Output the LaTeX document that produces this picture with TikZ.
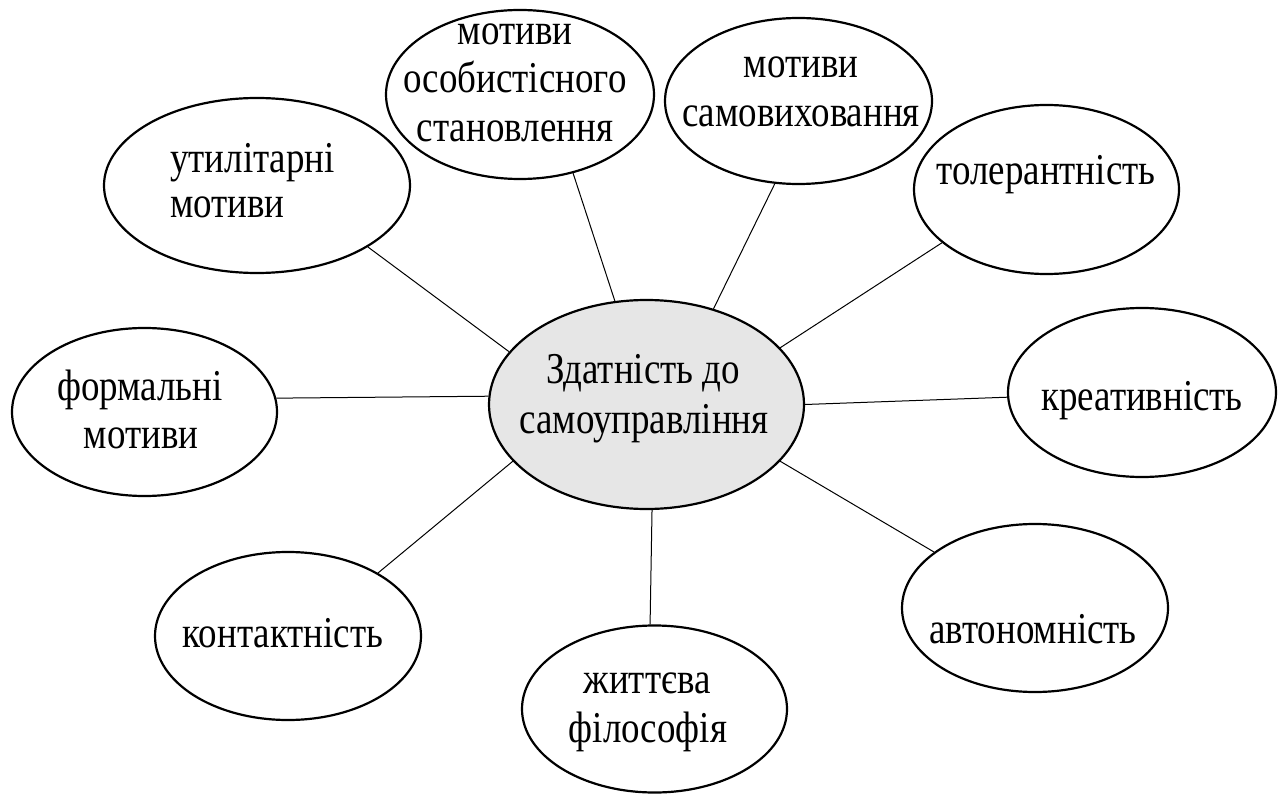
\documentclass[tikz,border=0pt]{standalone}
\usepackage{fontspec}
\setmainfont{Liberation Serif}[FakeStretch=0.84]
\usetikzlibrary{shapes.geometric}
\definecolor{hubfill}{HTML}{E6E6E6}
\begin{document}
\begin{tikzpicture}[x=1pt,y=-1pt,
  bub/.style={ellipse, draw, line width=2.2pt, fill=white, inner sep=0pt},
  hub/.style={bub, fill=hubfill},
  lab/.style={font=\fontsize{44}{49}\selectfont, inner sep=0pt, anchor=base},
  link/.style={line width=1pt}]
\useasboundingbox (0,0) rectangle (1282,794);
% ellipses
\node[hub, minimum width=315, minimum height=209] (c) at (646.5,404.5) {};
\node[bub, minimum width=306, minimum height=175] (u) at (257,185.5) {};
\node[bub, minimum width=268, minimum height=169] (o) at (520,94.5) {};
\node[bub, minimum width=267, minimum height=166] (s) at (798.5,101) {};
\node[bub, minimum width=265, minimum height=169] (t) at (1046.5,189.5) {};
\node[bub, minimum width=268, minimum height=169] (k) at (1142,392.5) {};
\node[bub, minimum width=266, minimum height=168] (a) at (1035,608) {};
\node[bub, minimum width=265, minimum height=167] (z) at (654.5,709) {};
\node[bub, minimum width=266, minimum height=168] (kt) at (288,636) {};
\node[bub, minimum width=265, minimum height=168] (f) at (144.5,412) {};
% connectors
\draw[link] (u.-29.6) -- (c.159.7);
\draw[link] (o.-56.5) -- (c.107.8);
\draw[link] (s.-106.5) -- (c.55.2);
\draw[link] (t.-153.3) -- (c.23.3);
\draw[link] (k.182.8) -- (c.0.5);
\draw[link] (a.151.9) -- (c.-23.6);
\draw[link] (z.93) -- (c.-87.6);
\draw[link] (kt.35.8) -- (c.-157.6);
\draw[link] (f.6.4) -- (c.177.3);
% texts
\node[lab] (c1) at (643,383) {Здатність до};
\node[lab] (c2) at (644,433) {самоуправління};
\node[lab, anchor=base west] (u1) at (170,173) {утилітарні};
\node[lab, anchor=base west] (u2) at (170,218) {мотиви};
\node[lab] (o1) at (515,45) {мотиви};
\node[lab] (o2) at (515,93) {особистісного};
\node[lab] (o3) at (515,142) {становлення};
\node[lab] (s1) at (801,78) {мотиви};
\node[lab] (s2) at (801,127) {самовиховання};
\node[lab] (t1) at (1046,185) {толерантність};
\node[lab] (k1) at (1142,410) {креативність};
\node[lab] (a1) at (1033,643) {автономність};
\node[lab] (z1) at (647,693) {життєва};
\node[lab] (z2) at (648,742) {філософія};
\node[lab] (kt1) at (283,647) {контактність};
\node[lab] (f1) at (140,400) {формальні};
\node[lab] (f2) at (141,448) {мотиви};
\end{tikzpicture}
\end{document}
